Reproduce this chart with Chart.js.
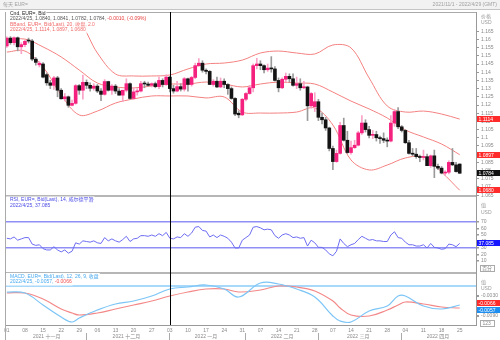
<!DOCTYPE html>
<html>
<head>
<meta charset="utf-8">
<script src="https://cdn.jsdelivr.net/npm/chart.js@4.4.0/dist/chart.umd.min.js"></script>
<style>
  body { margin: 0; background: #fff; }
  #wrap { position: relative; width: 500px; height: 340px; overflow: hidden; }
  canvas { position: absolute; left: 0; top: 0; }
</style>
</head>
<body>
<div id="wrap"><canvas id="c" width="500" height="340"></canvas></div>
<script>
// trading days, one list per month
const monthNames = ['2021 十一月', '2021 十二月', '2022 一月', '2022 二月', '2022 三月', '2022 四月'];
const monthYM = [[2021, 11], [2021, 12], [2022, 1], [2022, 2], [2022, 3], [2022, 4]];
const monthDays = [
  [1,2,3,4,5,8,9,10,11,12,15,16,17,18,19,22,23,24,25,26,29,30],
  [1,2,3,6,7,8,9,10,13,14,15,16,17,20,21,22,23,24,27,28,29,30,31],
  [3,4,5,6,7,10,11,12,13,14,17,18,19,20,21,24,25,26,27,28,31],
  [1,2,3,4,7,8,9,10,11,14,15,16,17,18,21,22,23,24,25,28],
  [1,2,3,4,7,8,9,10,11,14,15,16,17,18,21,22,23,24,25,28,29,30,31],
  [1,4,5,6,7,8,11,12,13,14,15,18,19,20,21,22,25,26,27,28,29]
];

// daily candles EUR=
const opens = [
  1.1560,1.1608,1.1580,1.1610,1.1555,1.1568,1.1595,1.1590,1.1480,1.1445,
  1.1450,1.1385,1.1335,1.1320,1.1365,1.1290,1.1238,1.1250,1.1198,1.1210,
  1.1318,1.1290,1.1338,1.1320,1.1302,1.1315,1.1285,1.1265,1.1343,1.1290,
  1.1315,1.1285,1.1260,1.1290,1.1330,1.1240,1.1280,1.1285,1.1330,1.1328,
  1.1320,1.1330,1.1312,1.1350,1.1325,1.1370,1.1300,1.1285,1.1312,1.1297,
  1.1360,1.1325,1.1368,1.1440,1.1455,1.1412,1.1405,1.1325,1.1345,1.1310,
  1.1345,1.1325,1.1300,1.1240,1.1150,1.1140,1.1235,1.1270,1.1305,1.1440,
  1.1450,1.1440,1.1415,1.1425,1.1420,1.1350,1.1305,1.1357,1.1375,1.1360,
  1.1320,1.1330,1.1305,1.1310,1.1195,1.1190,1.1220,1.1125,1.1110,1.1060,
  1.0935,1.0855,1.0905,1.1075,1.0985,1.0910,1.0940,1.0955,1.1030,1.1090,
  1.1050,1.1015,1.1020,1.1000,1.0995,1.0985,1.0980,1.1090,1.1160,1.1067,
  1.1045,1.0970,1.0905,1.0900,1.0885,1.0880,1.0885,1.0830,1.0890,1.0826,
  1.0815,1.0785,1.0790,1.0850,1.0835,1.0840
];
const highs = [
  1.1616,1.1617,1.1616,1.1615,1.1580,1.1595,1.1608,1.1600,1.1490,1.1465,
  1.1458,1.1395,1.1350,1.1375,1.1375,1.1300,1.1270,1.1255,1.1230,1.1325,
  1.1325,1.1383,1.1353,1.1335,1.1330,1.1325,1.1300,1.1355,1.1345,1.1325,
  1.1325,1.1300,1.1290,1.1360,1.1335,1.1305,1.1300,1.1345,1.1345,1.1340,
  1.1335,1.1340,1.1370,1.1360,1.1385,1.1375,1.1320,1.1345,1.1330,1.1368,
  1.1364,1.1375,1.1455,1.1483,1.1470,1.1420,1.1410,1.1355,1.1370,1.1365,
  1.1360,1.1330,1.1310,1.1245,1.1165,1.1240,1.1275,1.1320,1.1450,1.1485,
  1.1470,1.1445,1.1450,1.1495,1.1435,1.1365,1.1365,1.1395,1.1390,1.1390,
  1.1370,1.1360,1.1345,1.1315,1.1275,1.1275,1.1235,1.1150,1.1125,1.1065,
  1.0950,1.0925,1.1095,1.1120,1.1040,1.0980,1.0985,1.1040,1.1135,1.1110,
  1.1070,1.1045,1.1040,1.1010,1.1030,1.1000,1.1135,1.1170,1.1185,1.1075,
  1.1050,1.0985,1.0935,1.0935,1.0895,1.0925,1.0900,1.0895,1.0925,1.0840,
  1.0825,1.0800,1.0860,1.0935,1.0850,1.0841
];
const lows = [
  1.1551,1.1570,1.1566,1.1530,1.1513,1.1555,1.1578,1.1470,1.1443,1.1432,
  1.1365,1.1320,1.1300,1.1295,1.1250,1.1235,1.1225,1.1186,1.1195,1.1205,
  1.1265,1.1235,1.1300,1.1285,1.1290,1.1275,1.1227,1.1260,1.1285,1.1265,
  1.1270,1.1260,1.1222,1.1280,1.1235,1.1235,1.1260,1.1280,1.1305,1.1315,
  1.1310,1.1305,1.1300,1.1310,1.1320,1.1280,1.1272,1.1280,1.1285,1.1285,
  1.1285,1.1315,1.1360,1.1435,1.1400,1.1390,1.1325,1.1315,1.1305,1.1305,
  1.1305,1.1265,1.1235,1.1135,1.1122,1.1135,1.1225,1.1265,1.1280,1.1420,
  1.1415,1.1395,1.1405,1.1400,1.1345,1.1280,1.1300,1.1340,1.1340,1.1315,
  1.1300,1.1290,1.1300,1.1105,1.1180,1.1160,1.1105,1.1085,1.1045,1.0920,
  1.0806,1.0850,1.0900,1.0980,1.0905,1.0900,1.0935,1.0950,1.1020,1.1035,
  1.1000,1.0995,1.0980,1.0965,1.0970,1.0945,1.0975,1.1070,1.1055,1.1035,
  1.0965,1.0900,1.0890,1.0875,1.0855,1.0865,1.0830,1.0820,1.0757,1.0805,
  1.0780,1.0770,1.0780,1.0830,1.0790,1.0782
];
const closes = [
  1.1608,1.1580,1.1610,1.1555,1.1568,1.1588,1.1590,1.1480,1.1460,1.1455,
  1.1370,1.1335,1.1320,1.1365,1.1290,1.1238,1.1250,1.1198,1.1210,1.1318,
  1.1290,1.1338,1.1320,1.1302,1.1315,1.1285,1.1265,1.1343,1.1290,1.1315,
  1.1285,1.1260,1.1290,1.1330,1.1240,1.1280,1.1285,1.1330,1.1328,1.1320,
  1.1330,1.1312,1.1350,1.1325,1.1370,1.1300,1.1285,1.1312,1.1297,1.1360,
  1.1325,1.1368,1.1440,1.1455,1.1412,1.1405,1.1325,1.1345,1.1310,1.1345,
  1.1325,1.1300,1.1240,1.1145,1.1140,1.1235,1.1270,1.1305,1.1440,1.1450,
  1.1440,1.1415,1.1425,1.1420,1.1350,1.1305,1.1357,1.1375,1.1360,1.1320,
  1.1330,1.1305,1.1310,1.1195,1.1270,1.1220,1.1125,1.1110,1.1060,1.0935,
  1.0855,1.0905,1.1075,1.0985,1.0910,1.0940,1.0955,1.1030,1.1090,1.1050,
  1.1015,1.1020,1.1000,1.0995,1.0985,1.0980,1.1090,1.1160,1.1067,1.1045,
  1.0970,1.0905,1.0900,1.0885,1.0880,1.0885,1.0830,1.0890,1.0826,1.0815,
  1.0785,1.0790,1.0850,1.0835,1.0794,1.0784
];

// bollinger band (20, 2.0) read every 5 days
const bandIdx = [0,5,10,15,20,25,30,35,40,45,50,55,60,65,70,75,80,85,90,95,100,105,110,115,120,125];
const bandUpper = [1.1682,1.1688,1.1700,1.1712,1.1700,1.1517,1.1389,1.1377,1.1377,1.1383,1.1420,1.1450,1.1456,
                   1.1474,1.1517,1.1529,1.1517,1.1511,1.1566,1.1548,1.1365,1.1194,1.1157,1.1163,1.1145,1.1114];
const bandMid   = [1.1596,1.1602,1.1554,1.1493,1.1413,1.1334,1.1310,1.1304,1.1316,1.1328,1.1328,1.1340,1.1328,
                   1.1310,1.1328,1.1340,1.1334,1.1328,1.1279,1.1224,1.1176,1.1121,1.1048,1.1005,1.0962,1.0897];
const bandLower = [1.1523,1.1529,1.1432,1.1261,1.1139,1.1163,1.1212,1.1237,1.1255,1.1255,1.1255,1.1243,1.1249,
                   1.1157,1.1151,1.1151,1.1157,1.1182,1.1078,1.0865,1.0804,1.0834,1.0877,1.0883,1.0791,1.0680];

// RSI 14
const rsi = [
  45,44,47,42,44,46,46,36,34,35,
  29,27,27,32,27,24,27,22,25,38,
  36,41,40,39,41,38,37,46,41,44,
  41,39,43,48,40,44,45,49,49,48,
  50,48,52,49,54,45,44,47,46,52,
  48,53,62,63,57,56,47,50,46,50,
  48,45,39,30,30,42,46,50,62,63,
  61,58,59,58,49,45,50,52,50,46,
  47,45,46,33,42,38,31,31,27,21,
  18,25,44,37,32,35,37,43,48,45,
  42,43,41,41,40,40,50,55,46,45,
  39,35,35,33,33,35,30,37,31,30,
  28,29,36,35,32,37.085
];

// MACD 12, 26, 9
const macdIdx = [0,5,10,15,18,20,25,30,35,40,45,50,55,60,64,70,75,80,85,90,92,95,100,105,108,110,115,120,125];
const macdLine = [-0.0018,-0.0021,-0.0057,-0.0093,-0.0108,-0.0096,-0.0072,-0.0054,-0.0045,-0.0030,-0.0009,-0.0003,0.0003,
                  -0.0009,-0.0033,0.0009,0.0006,-0.0009,-0.0033,-0.0090,-0.0105,-0.0108,-0.0075,-0.0060,-0.0030,-0.0030,
                  -0.0060,-0.0069,-0.0057];
const macdSignal = [-0.0021,-0.0021,-0.0039,-0.0069,-0.0081,-0.0087,-0.0081,-0.0069,-0.0057,-0.0045,-0.0030,-0.0018,-0.0009,
                    -0.0009,-0.0018,-0.0012,0.0000,-0.0003,-0.0015,-0.0045,-0.0066,-0.0087,-0.0090,-0.0072,-0.0057,-0.0048,
                    -0.0054,-0.0063,-0.0066];

// axis ticks
const priceTicks = [1.065,1.07,1.075,1.08,1.085,1.09,1.095,1.1,1.105,1.11,1.115,1.12,1.125,1.13,1.135,1.14,1.145,1.15,1.155,1.16,1.165];
const rsiTicks = [10,20,30,40,50,60,70];
const macdTicks = [0,-0.003,-0.009];

const FAM = '"Liberation Sans", "Noto Sans CJK SC", sans-serif';
const FONT = '5px ' + FAM;
const tickFont = { family: FAM, size: 5 };
const PINK = '#f5217f';

const dates = [], dayTick = [], monthTick = [], monthStart = [];
monthDays.forEach((days, m) => {
  const [yr, mo] = monthYM[m];
  const start = dates.length;
  days.forEach(d => {
    dates.push(yr + '/' + mo + '/' + d);
    dayTick.push(new Date(yr, mo - 1, d).getDay() === 1 ? String(d).padStart(2, '0') : '');
    monthTick.push('');
  });
  if (start > 0) monthStart.push(start);
  monthTick[Math.round((start + dates.length - 1) / 2)] = monthNames[m];
});
const crossIndex = dates.indexOf('2022/1/3');
const up = opens.map((o, i) => closes[i] >= o);

const pts = (idx, vals) => idx.map((i, k) => ({ x: dates[i], y: vals[k] }));

function tag(c, y, bg, text) {
  y = Math.round(y);
  c.fillStyle = bg;
  c.fillRect(477, y - 3, 23, 6);
  c.fillStyle = '#fff';
  c.textAlign = 'left';
  c.fillText(text, 478.5, y + 0.5);
}

const overlay = {
  id: 'overlay',
  beforeDraw(chart) {
    const c = chart.ctx;
    c.save();
    c.fillStyle = '#f2f2f2';
    c.fillRect(0, 0, 500, 9);
    c.fillStyle = '#c4c4c4';
    c.fillRect(0, 9, 500, 1);
    c.font = FONT;
    c.textBaseline = 'middle';
    c.fillStyle = '#a0a0a0';
    c.textAlign = 'left';
    c.fillText('每天 EUR=', 3, 5);
    c.textAlign = 'right';
    c.fillText('2021/11/1 - 2022/4/29 (GMT)', 497, 5);
    c.restore();
  },
  afterDatasetsDraw(chart) {
    const c = chart.ctx, a = chart.chartArea, s = chart.scales;
    c.save();
    c.strokeStyle = '#aaa';
    c.lineWidth = 1;
    c.beginPath();
    c.moveTo(a.left + 0.5, a.top);
    c.lineTo(a.left + 0.5, 340);
    c.moveTo(a.left, a.top + 0.5);
    c.lineTo(a.right, a.top + 0.5);
    c.stroke();
    c.strokeStyle = '#9e9e9e';
    c.lineWidth = 1.5;
    [s.yp.bottom, s.yr.bottom].forEach(y => {
      c.beginPath();
      c.moveTo(a.left, y);
      c.lineTo(a.right, y);
      c.stroke();
    });
    const cx = Math.round(s.x.getPixelForValue(crossIndex)) + 0.5;
    c.strokeStyle = '#000';
    c.lineWidth = 1;
    c.beginPath();
    c.moveTo(cx, a.top);
    c.lineTo(cx, a.bottom);
    c.stroke();
    c.restore();
  },
  afterDraw(chart) {
    const c = chart.ctx, s = chart.scales;
    const n = closes.length - 1;
    c.save();
    c.font = FONT;
    c.textBaseline = 'middle';
    c.textAlign = 'left';

    // legends, each line on a white strip
    const line = (parts, x, y) => {
      const w = parts.reduce((t, p) => t + c.measureText(p[0]).width, 0);
      c.fillStyle = '#fff';
      c.fillRect(6, y - 3.5, x - 6 + w + 1, 7);
      parts.forEach(([t, col]) => { c.fillStyle = col; c.fillText(t, x, y); x += c.measureText(t).width; });
    };
    const pt = s.yp.top, rt = s.yr.top, mt = s.ym.top;
    line([['Cnd, EUR=, Bid', '#222']], 10, pt + 1.5);
    line([['2022/4/25, 1.0840, 1.0841, 1.0782, 1.0784, ', '#555'], ['-0.0010, (-0.09%)', '#e83a3a']], 10, pt + 7);
    line([['BBand, EUR=, Bid(Last), 20, 收盘, 2.0', '#f06a6a']], 10, pt + 12.5);
    line([['2022/4/25, ' + bandUpper[bandUpper.length - 1].toFixed(4) + ', ' + bandMid[bandMid.length - 1].toFixed(4) + ', ' +
           bandLower[bandLower.length - 1].toFixed(4), '#f06a6a']], 10, pt + 18);
    line([['RSI, EUR=, Bid(Last), 14, 威尔德平滑', '#4b4be6']], 10, rt + 4);
    line([['2022/4/25, ' + rsi[n].toFixed(3), '#4b4be6']], 10, rt + 9.5);
    line([['MACD, EUR=, Bid(Last), 12, 26, 9, 收盘', '#48a9ef']], 10, mt + 3.5);
    line([['2022/4/25, ' + macdLine[macdLine.length - 1].toFixed(4) + ', ', '#48a9ef'],
          [macdSignal[macdSignal.length - 1].toFixed(4), '#f05050']], 10, mt + 9);

    // axis titles
    c.fillStyle = '#999';
    c.fillText('价格', 481, pt + 5);
    c.fillText('USD', 481, pt + 11);
    c.fillText('值', 481, rt + 10);
    c.fillText('USD', 481, rt + 17);
    c.fillText('值', 481, mt + 10);
    c.fillText('USD', 481, mt + 16);

    // small buttons
    c.strokeStyle = '#aaa';
    c.lineWidth = 1;
    c.strokeRect(480.5, s.yr.bottom - 7.5, 14, 6);
    c.strokeRect(480.5, s.ym.bottom - 4.5, 14, 6);
    c.fillStyle = '#888';
    c.fillText('百分', 482, s.yr.bottom - 4.5);
    c.fillText('123', 482.5, s.ym.bottom - 1.5);

    // last value tags
    tag(c, s.yp.getPixelForValue(bandUpper[bandUpper.length - 1]), '#ff2b2b', bandUpper[bandUpper.length - 1].toFixed(4));
    tag(c, s.yp.getPixelForValue(bandMid[bandMid.length - 1]), '#ff2b2b', bandMid[bandMid.length - 1].toFixed(4));
    tag(c, s.yp.getPixelForValue(closes[n]), '#111', closes[n].toFixed(4));
    tag(c, s.yp.getPixelForValue(bandLower[bandLower.length - 1]), '#ff2b2b', bandLower[bandLower.length - 1].toFixed(4));
    tag(c, s.yr.getPixelForValue(rsi[n]), '#1414ff', rsi[n].toFixed(3));
    const my = s.ym.getPixelForValue(macdLine[macdLine.length - 1]);
    tag(c, my - 2, '#ff2b2b', macdSignal[macdSignal.length - 1].toFixed(4));
    tag(c, my + 4.5, '#1e8ff0', macdLine[macdLine.length - 1].toFixed(4));
    c.restore();
  }
};

new Chart(document.getElementById('c'), {
  type: 'bar',
  data: {
    labels: dates,
    datasets: [
      {
        type: 'line', data: pts(bandIdx, bandUpper), borderColor: '#f48080', borderWidth: 1,
        pointRadius: 0, tension: 0.35, yAxisID: 'yp', order: 5
      },
      {
        type: 'line', data: pts(bandIdx, bandMid), borderColor: '#f48080', borderWidth: 1,
        pointRadius: 0, tension: 0.35, yAxisID: 'yp', order: 5
      },
      {
        type: 'line', data: pts(bandIdx, bandLower), borderColor: '#f48080', borderWidth: 1,
        pointRadius: 0, tension: 0.35, yAxisID: 'yp', order: 5
      },
      {
        type: 'bar', data: lows.map((l, i) => [l, highs[i]]),
        backgroundColor: up.map(u => u ? '#f9a3c7' : '#9a9a9a'),
        barThickness: 1, grouped: false, yAxisID: 'yp', order: 4
      },
      {
        type: 'bar', data: opens.map((o, i) => [o, closes[i]]),
        backgroundColor: up.map(u => u ? PINK : '#141414'),
        barThickness: 3, minBarLength: 1, grouped: false, yAxisID: 'yp', order: 3
      },
      {
        type: 'line', data: rsi, borderColor: '#6d6df2', borderWidth: 1,
        pointRadius: 0, yAxisID: 'yr', order: 2
      },
      {
        type: 'line', data: pts(macdIdx, macdSignal), borderColor: '#f48888', borderWidth: 1.2,
        pointRadius: 0, tension: 0.4, yAxisID: 'ym', order: 1
      },
      {
        type: 'line', data: pts(macdIdx, macdLine), borderColor: '#7cc5f6', borderWidth: 1.2,
        pointRadius: 0, tension: 0.4, yAxisID: 'ym', order: 0
      }
    ]
  },
  options: {
    responsive: false,
    animation: false,
    devicePixelRatio: 1,
    layout: { padding: { top: 12, left: 5, right: 0, bottom: 0 } },
    plugins: { legend: { display: false }, tooltip: { enabled: false } },
    scales: {
      x: {
        position: 'bottom', offset: true,
        grid: { offset: true, drawOnChartArea: false, drawTicks: false, color: 'transparent' },
        border: { color: '#999' },
        ticks: { autoSkip: false, maxRotation: 0, font: tickFont, color: '#8a8a8a', padding: 3,
                 callback: (v, i) => dayTick[i] },
        afterFit: s => { s.height = 8; }
      },
      xm: {
        type: 'category', labels: dates, position: 'bottom', offset: true,
        border: { display: false },
        grid: { offset: false, drawOnChartArea: false, tickLength: 7, color: 'transparent',
                tickColor: c => monthStart.includes(c.index) ? '#aaa' : 'transparent' },
        ticks: { autoSkip: false, maxRotation: 0, font: tickFont, color: '#8a8a8a', padding: -6,
                 callback: (v, i) => monthTick[i] },
        afterFit: s => { s.height = 7; }
      },
      yp: {
        position: 'right', stack: 'pane', stackWeight: 184, min: 1.06451, max: 1.17671,
        afterBuildTicks: s => { s.ticks = priceTicks.map(v => ({ value: v })); },
        afterFit: s => { s.width = 24; },
        grid: { drawOnChartArea: false, tickLength: 3, color: '#999' },
        border: { color: '#999' },
        ticks: { autoSkip: false, font: tickFont, color: '#8a8a8a', padding: 2,
                 callback: v => String(+v.toFixed(3)) }
      },
      yr: {
        position: 'right', stack: 'pane', stackWeight: 77, min: -8.46, max: 110,
        afterBuildTicks: s => { s.ticks = rsiTicks.map(v => ({ value: v })); },
        afterFit: s => { s.width = 24; },
        grid: {
          tickLength: 3, tickColor: '#999',
          color: c => (c.tick && (c.tick.value === 70 || c.tick.value === 30)) ? '#8f8ff6' : 'transparent',
          lineWidth: 1.5
        },
        border: { color: '#999' },
        ticks: { autoSkip: false, font: tickFont, color: '#8a8a8a', padding: 2 }
      },
      ym: {
        position: 'right', stack: 'pane', stackWeight: 52, min: -0.0117, max: 0.0039,
        afterBuildTicks: s => { s.ticks = macdTicks.map(v => ({ value: v })); },
        afterFit: s => { s.width = 24; },
        grid: {
          tickLength: 3,
          tickColor: c => (c.tick && c.tick.value === 0) ? 'transparent' : '#999',
          color: c => (c.tick && c.tick.value === 0) ? '#a8d9fb' : 'transparent',
          lineWidth: 2
        },
        border: { color: '#999' },
        ticks: { autoSkip: false, font: tickFont, color: '#8a8a8a', padding: 2,
                 callback: v => v === 0 ? '' : v.toFixed(4) }
      }
    }
  },
  plugins: [overlay]
});
</script>
</body>
</html>
